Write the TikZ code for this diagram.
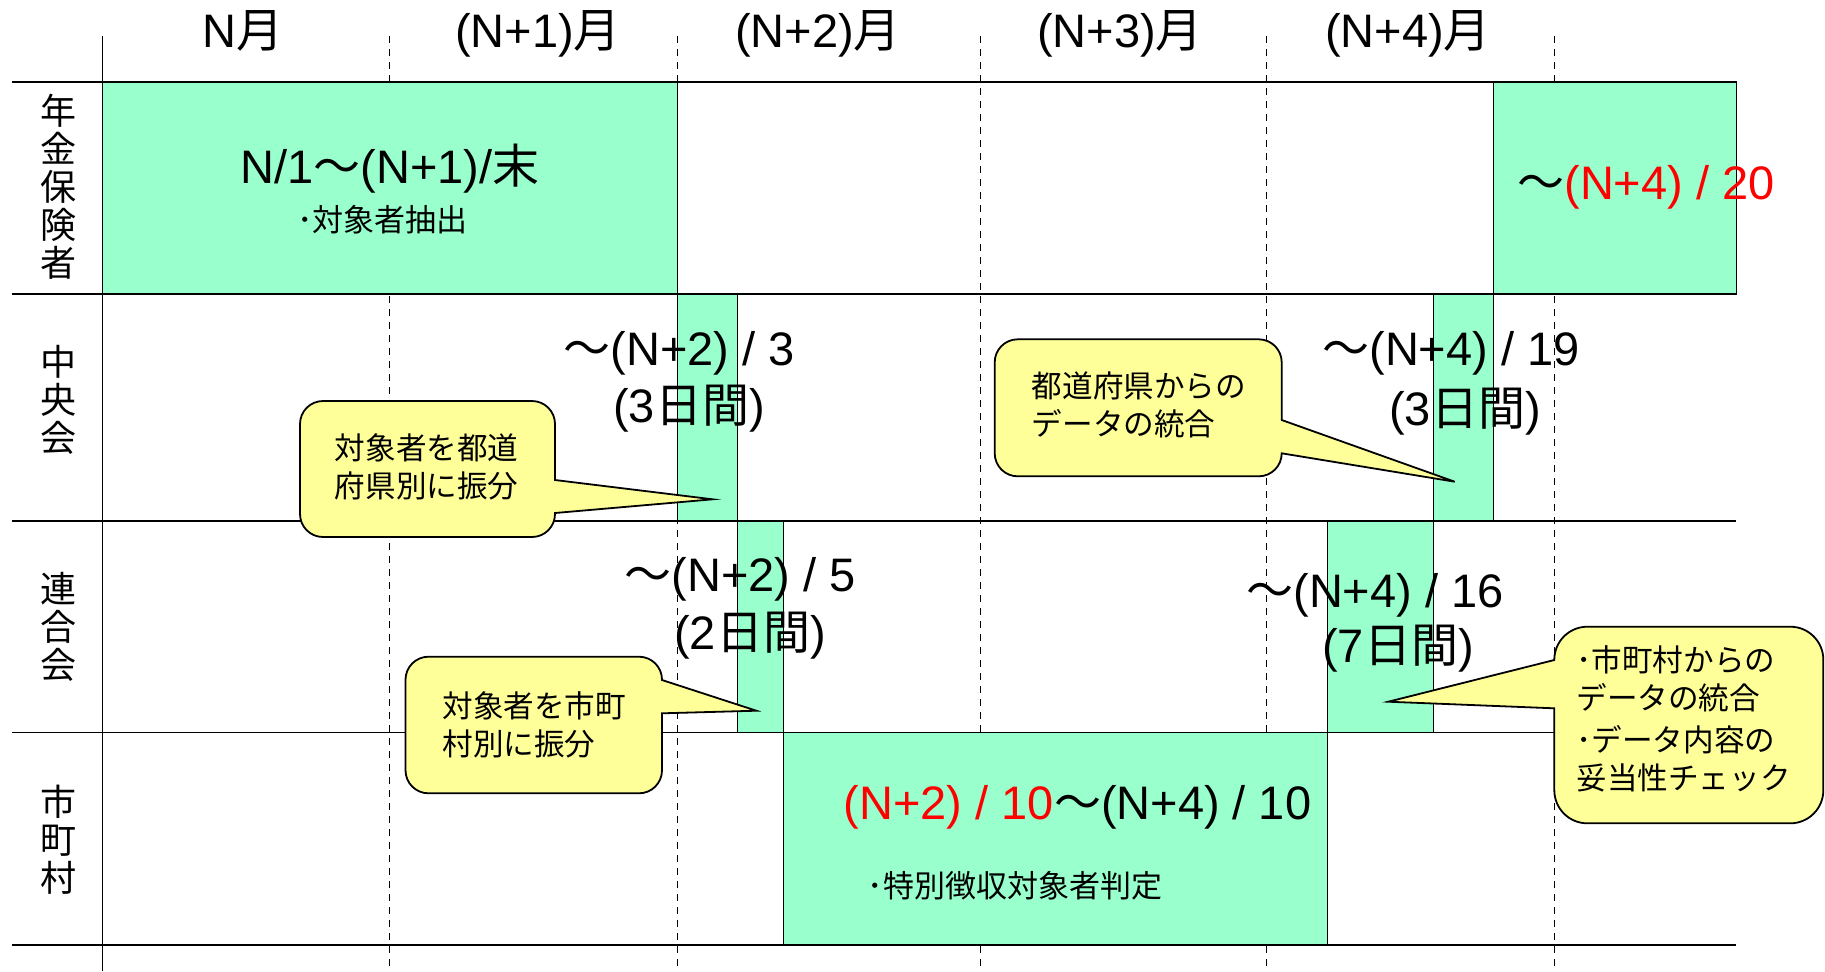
\documentclass[tikz,border=0pt]{standalone}
\usepackage{fontspec}
\setmainfont{Liberation Sans}
\newfontfamily\jp{Noto Sans CJK JP}
\usepackage{tikz}
\usetikzlibrary{positioning}

\definecolor{barmint}{RGB}{153,255,204}
\definecolor{notepale}{RGB}{255,255,153}

\tikzset{
	rowline/.style={line width=0.9pt},
	monthline/.style={line width=0.5pt, dash pattern=on 3.5pt off 3pt},
	bar/.style={draw=black, fill=barmint, line width=0.5pt},
	note/.style={draw=black, fill=notepale, line width=0.9pt},
	datelabel/.style={inner sep=0pt, anchor=base, font=\fontsize{23.5}{28}\selectfont},
	tasklabel/.style={inner sep=0pt, font=\jp\fontsize{15.5}{19}\selectfont},
	notetext/.style={inner sep=0pt, anchor=west, align=left, font=\jp\fontsize{15.3}{19}\selectfont},
	sidelabel/.style={inner sep=0pt, align=center, font=\jp\fontsize{18}{19}\selectfont}
}

\begin{document}
\begin{tikzpicture}[x=0.5pt,y=-0.5pt]
	\useasboundingbox (0,0) rectangle (1825,971);

	\foreach \x in {389.8,677.7,980,1266.6,1554.3}
		\draw [monthline] (\x,36.3) -- (\x,971);

	\draw [bar] (102.4,81.7) rectangle (677.7,294);
	\draw [bar] (1493.7,81.7) rectangle (1736,294);
	\draw [bar] (677.7,294) rectangle (737.6,520.7);
	\draw [bar] (1433.2,294) rectangle (1493.7,520.7);
	\draw [bar] (737.6,520.7) rectangle (783,732.5);
	\draw [bar] (1327.2,520.7) rectangle (1433.2,732.5);
	\draw [bar] (783,732.5) rectangle (1327.2,945);

	\foreach \y in {81.7,294,520.7,732.5,945}
		\draw [rowline] (11.6,\y) -- (1736,\y);
	\draw [line width=0.75pt] (102.4,36.3) -- (102.4,971);

	% months
	\node [datelabel] (monthN) at (243,47.5) {N{\jp 月}};
	\node [datelabel] (monthA) at (538,47.5) {(N+1){\jp 月}};
	\node [datelabel] (monthB) at (818,47.5) {(N+2){\jp 月}};
	\node [datelabel] (monthC) at (1120,47.5) {(N+3){\jp 月}};
	\node [datelabel] (monthD) at (1408,47.5) {(N+4){\jp 月}};

	% rows
	\node [sidelabel] (rowPension) at (58,187) {年\\金\\保\\険\\者};
	\node [sidelabel] (rowCentral) at (58,400) {中\\央\\会};
	\node [sidelabel] (rowUnion) at (58,627) {連\\合\\会};
	\node [sidelabel] (rowCity) at (58,840) {市\\町\\村};

	% dates
	\node [datelabel] (pickDate) at (390,183) {N/1{\jp ～}(N+1)/{\jp 末}};
	\node [tasklabel] (pickTask) at (382.5,220) {･対象者抽出};
	\node [datelabel] (returnDate) at (1646,199) {{\jp ～}\textcolor{red}{(N+4) / 20}};
	\node [datelabel] (centralA) at (679,365.5) {{\jp ～}(N+2) / 3};
	\node [datelabel] (centralAdays) at (689,422.5) {(3{\jp 日間})};
	\node [datelabel] (unionA) at (740,591) {{\jp ～}(N+2) / 5};
	\node [datelabel] (unionAdays) at (750,649) {(2{\jp 日間})};
	\node [datelabel] (centralB) at (1451,365.5) {{\jp ～}(N+4) / 19};
	\node [datelabel] (centralBdays) at (1465,425) {(3{\jp 日間})};
	\node [datelabel] (unionB) at (1375,607) {{\jp ～}(N+4) / 16};
	\node [datelabel] (unionBdays) at (1398,662) {(7{\jp 日間})};
	\node [datelabel] (cityDate) at (1077.5,819) {\textcolor{red}{(N+2) / 10}{\jp ～}(N+4) / 10};
	\node [tasklabel] (cityTask) at (1015,886) {･特別徴収対象者判定};

	% callouts
	\draw [note] (323,401) -- (532,401) arc (90:0:11.5pt) -- (555,480) -- (712.6,499.3) -- (555,513) -- (555,514) arc (0:-90:11.5pt) -- (323,537) arc (270:180:11.5pt) -- (300,424) arc (180:90:11.5pt) -- cycle;
	\node [notetext] (noteSplitPref) at (334.5,466.7) {対象者を都道\\府県別に振分};

	\draw [note] (1017.7,339.3) -- (1258.7,339.3) arc (90:0:11.5pt) -- (1281.7,420) -- (1454.7,481.7) -- (1281.7,453.3) arc (0:-90:11.5pt) -- (1017.7,476.3) arc (270:180:11.5pt) -- (994.7,362.3) arc (180:90:11.5pt) -- cycle;
	\node [notetext] (noteMergePref) at (1031.4,405) {都道府県からの\\データの統合};

	\draw [note] (428.5,656.7) -- (639,656.7) arc (90:0:11.5pt) -- (662,680) -- (756.3,710.7) -- (662,713.3) -- (662,770.3) arc (0:-90:11.5pt) -- (428.5,793.3) arc (270:180:11.5pt) -- (405.5,679.7) arc (180:90:11.5pt) -- cycle;
	\node [notetext] (noteSplitCity) at (442,725) {対象者を市町\\村別に振分};

	\draw [note] (1587.3,626.7) -- (1790.3,626.7) arc (90:0:16.5pt) -- (1823.3,790.3) arc (0:-90:16.5pt) -- (1587.3,823.3) arc (270:180:16.5pt) -- (1554.3,708.3) -- (1388.3,701.7) -- (1554.3,660) -- (1554.3,659.7) arc (180:90:16.5pt) -- cycle;
	\node [notetext] (noteMergeCity) at (1576,719.2) {･市町村からの\\データの統合\\[2pt]･データ内容の\\妥当性チェック};
\end{tikzpicture}
\end{document}
